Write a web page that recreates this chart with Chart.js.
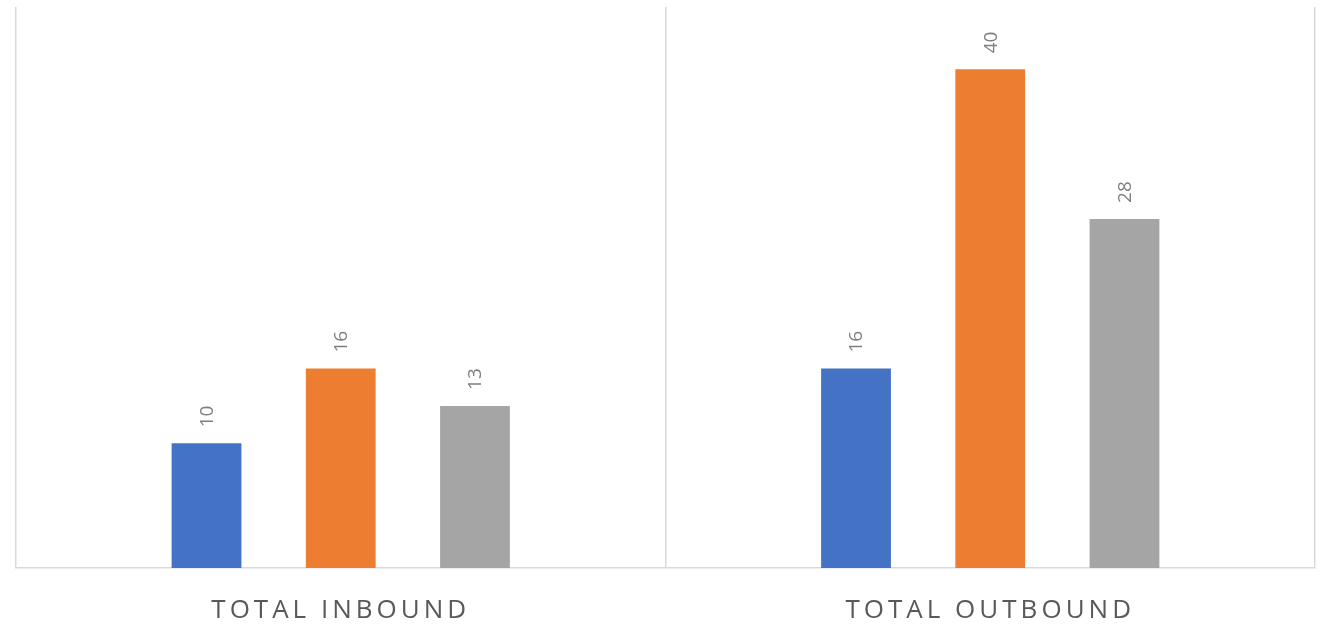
<!DOCTYPE html>
<html>
<head>
<meta charset="utf-8">
<script src="https://cdn.jsdelivr.net/npm/chart.js@4/dist/chart.umd.min.js"></script>
<style>
  html, body { margin: 0; padding: 0; background: #fff; }
  #wrap { width: 1324px; height: 624px; }
</style>
</head>
<body>
<div id="wrap"><canvas id="bars"></canvas></div>
<script>
var categories = ["TOTAL INBOUND", "TOTAL OUTBOUND"];
var seriesA = [10, 16];
var seriesB = [16, 40];
var seriesC = [13, 28];

// value labels above each bar, rotated like the original
var barLabels = {
    id: 'barLabels',
    afterDatasetsDraw: function(chart) {
        var ctx = chart.ctx;
        ctx.save();
        ctx.letterSpacing = '0px';
        ctx.font = '19px "Open Sans", sans-serif';
        ctx.fillStyle = '#7f7f7f';
        ctx.textAlign = 'left';
        ctx.textBaseline = 'middle';
        chart.data.datasets.forEach(function(ds, i) {
            chart.getDatasetMeta(i).data.forEach(function(bar, j) {
                ctx.save();
                ctx.translate(bar.x + 1, bar.y - 16);
                ctx.rotate(-Math.PI / 2);
                ctx.fillText(ds.data[j], 0, 0);
                ctx.restore();
            });
        });
        ctx.restore();
    }
};

var spacing = {
    id: 'spacing',
    beforeDraw: function(chart) { chart.ctx.letterSpacing = '4px'; },
    beforeUpdate: function(chart) { chart.ctx.letterSpacing = '4px'; }
};

var ctx = document.getElementById('bars').getContext('2d');
var chart = new Chart(ctx, {
    type: 'bar',
    data: {
        labels: categories,
        datasets: [
            { data: seriesA, backgroundColor: '#4472c4' },
            { data: seriesB, backgroundColor: '#ed7d31' },
            { data: seriesC, backgroundColor: '#a5a5a5' }
        ]
    },
    options: {
        responsive: true,
        maintainAspectRatio: false,
        animation: false,
        categoryPercentage: 0.62,
        barPercentage: 0.52,
        layout: { padding: { left: 16, right: 9, top: 7, bottom: 0 } },
        plugins: {
            legend: { display: false },
            tooltip: { enabled: false }
        },
        scales: {
            x: {
                grid: { offset: true, color: '#d9d9d9', lineWidth: 1.5, drawTicks: false },
                border: { color: '#d9d9d9', width: 1.5 },
                ticks: {
                    color: '#595959',
                    font: { family: '"Open Sans", sans-serif', size: 26 },
                    padding: 27
                },
                afterFit: function(scale) { scale.height = 56; }
            },
            y: { display: false, min: 0, max: 45 }
        }
    },
    plugins: [barLabels, spacing]
});
</script>
</body>
</html>
